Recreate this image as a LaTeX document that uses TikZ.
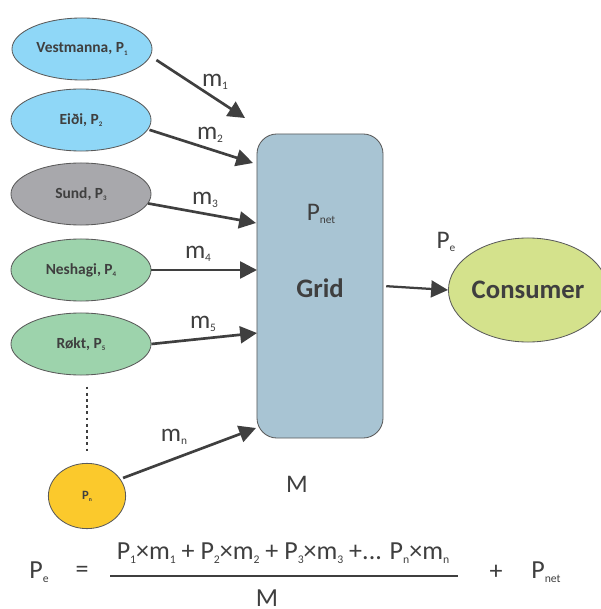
\documentclass[tikz,border=0pt]{standalone}
\usepackage{fontspec}
\setmainfont{Carlito}
\usetikzlibrary{shapes.geometric,arrows.meta}
\definecolor{ink}{HTML}{3F3F3F}
\definecolor{rim}{HTML}{5A5A5A}
\definecolor{skyfill}{HTML}{8FD7F7}
\definecolor{greyfill}{HTML}{A8A8AC}
\definecolor{mintfill}{HTML}{9DD3AC}
\definecolor{sunfill}{HTML}{FBC92C}
\definecolor{gridfill}{HTML}{A8C4D3}
\definecolor{limefill}{HTML}{D4E28C}
\makeatletter
\newcommand{\sbs}[1]{\raisebox{-0.3ex}{\fontsize{\fpeval{0.45*\f@size}}{1}\selectfont #1}}
\makeatother
\begin{document}
\begin{tikzpicture}[x=0.025cm,y=-0.025cm,
  plant/.style={ellipse,draw=rim,line width=0.6pt,minimum width=3.5cm,minimum height=1.55cm,
    inner sep=0pt,text=ink,font=\fontsize{11}{13}\selectfont\bfseries},
  flow/.style={-{Triangle[length=12pt,width=12pt]},line width=1.9pt,draw=ink},
  mlab/.style={text=ink,inner sep=0pt,font=\fontsize{18}{21}\selectfont},
  eqlab/.style={text=ink,inner sep=0pt,font=\fontsize{18.5}{22}\selectfont}]
\useasboundingbox (0,0) rectangle (600,609);
\node[plant,fill=skyfill] (vest) at (82,49) {Vestmanna, P\sbs{1}};
\node[plant,fill=skyfill] (eidi) at (81,120) {Eiði, P\sbs{2}};
\node[plant,fill=greyfill] (sund) at (81,194) {Sund, P\sbs{3}};
\node[plant,fill=mintfill] (nesh) at (81,270) {Neshagi, P\sbs{4}};
\node[plant,fill=mintfill] (rokt) at (81,344) {Røkt, P\sbs{5}};
\node[plant,fill=sunfill,minimum width=1.93cm,minimum height=1.63cm,font=\fontsize{9}{10}\selectfont\bfseries] (pn) at (87,496) {P\sbs{n}};
\node[draw=rim,line width=0.6pt,fill=gridfill,rounded corners=0.5cm,minimum width=3.15cm,minimum height=7.6cm] (grid) at (320,286) {};
\node[text=ink,font=\fontsize{19}{22}\selectfont\bfseries] (gridtxt) at (320,288) {Grid};
\node[mlab] (pnet) at (321,214) {P\sbs{net}};
\node[ellipse,draw=rim,line width=0.6pt,fill=limefill,minimum width=3.5cm,minimum height=2.6cm,inner sep=0pt,
  text=ink,font=\fontsize{19}{22}\selectfont\bfseries] (cons) at (528,290) {Consumer};
\node[mlab] (pe) at (446,242) {P\sbs{e}};
\node[mlab] (mtot) at (297,484) {M};
\coordinate (in1) at (245,118);
\coordinate (in2) at (253,163);
\coordinate (in3) at (256,223);
\coordinate (in4) at (257,270);
\coordinate (in5) at (257,333);
\coordinate (in6) at (256,428);
\draw[flow,shorten <=5pt] (vest.-6) -- (in1);
\draw[flow,shorten <=1pt] (eidi.-8) -- (in2);
\draw[flow] (sund.-8) -- (in3);
\draw[flow] (nesh.east) -- (in4);
\draw[flow] (rokt.east) -- (in5);
\draw[flow,shorten <=2pt] (pn.27) -- (in6);
\draw[flow,line width=1.6pt,shorten <=2pt] (grid.east) -- (cons.west);
\draw[ink,line width=2pt,dash pattern=on 2pt off 2.4pt,shorten <=8pt,shorten >=7pt] (rokt.south -| pn) -- (pn.north);
\node[mlab] (lm1) at (215,82) {m\sbs{1}};
\node[mlab] (lm2) at (210,135) {m\sbs{2}};
\node[mlab] (lm3) at (205,200) {m\sbs{3}};
\node[mlab] (lm4) at (198,254) {m\sbs{4}};
\node[mlab] (lm5) at (203,324) {m\sbs{5}};
\node[mlab] (lmn) at (174,437) {m\sbs{n}};
\node[eqlab] (fpe) at (39,572) {P\sbs{e}};
\node[eqlab] (feq) at (82,572) {=};
\node[eqlab] (fnum) at (283,553) {P\sbs{1}×m\sbs{1} + P\sbs{2}×m\sbs{2} + P\sbs{3}×m\sbs{3} +... P\sbs{n}×m\sbs{n}};
\coordinate (barl) at (110,576);
\coordinate (barr) at (458,576);
\draw[ink,line width=1.9pt] (barl) -- (barr);
\node[eqlab] (fden) at (267,598) {M};
\node[eqlab] (fplus) at (496,572) {+};
\node[eqlab] (fpnet) at (546,572) {P\sbs{net}};
\end{tikzpicture}
\end{document}
